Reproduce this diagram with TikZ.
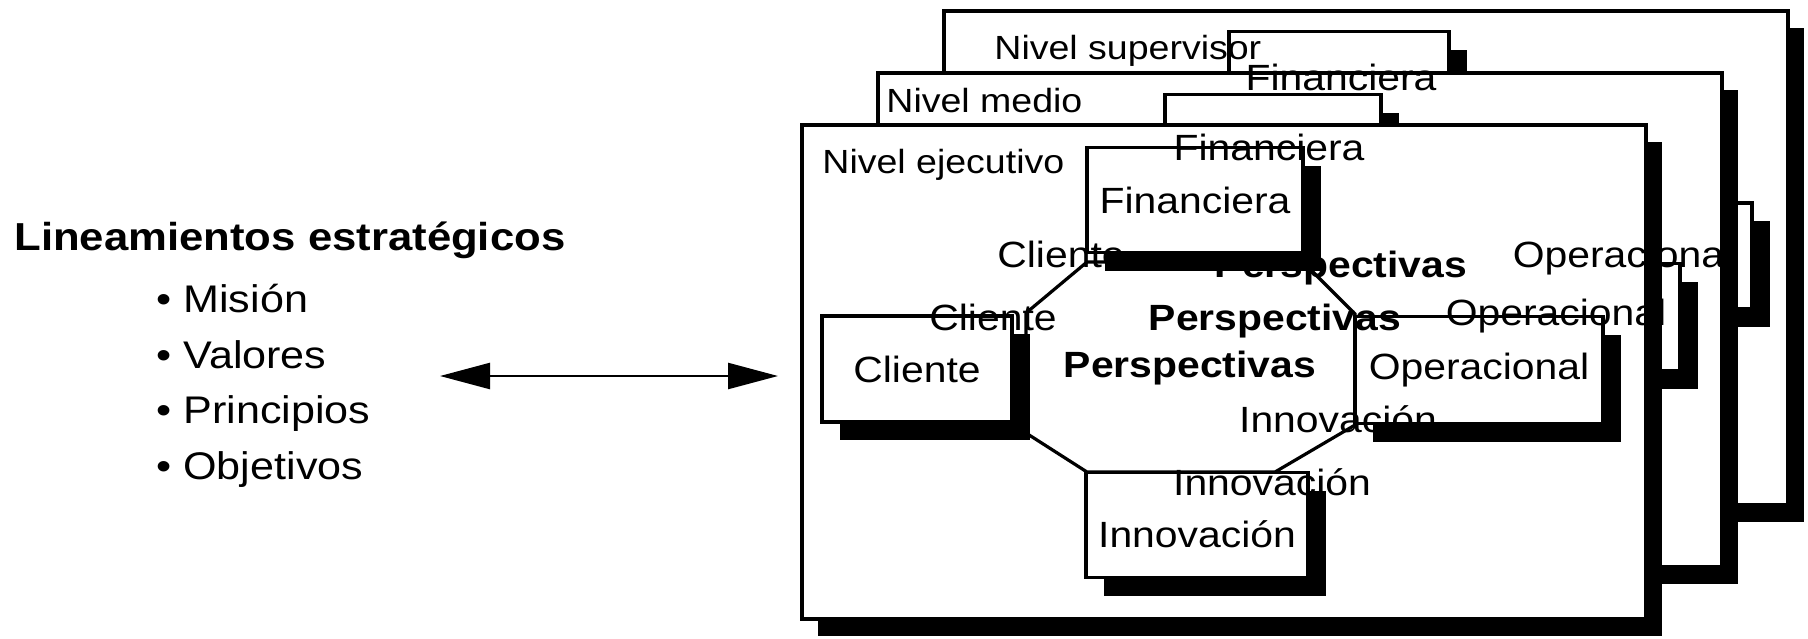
\documentclass[tikz,border=0pt]{standalone}
\usepackage{fontspec}
\setmainfont{Liberation Sans}[FakeStretch=1.12]
\usetikzlibrary{arrows.meta, shadows}

\tikzset{
  levelframe/.style={draw, line width=1.6pt, fill=white, inner sep=0pt,
    minimum width=422pt, minimum height=247pt,
    general shadow={fill=black, shadow xshift=8pt, shadow yshift=-8.5pt}},
  persbox/.style={draw, line width=1.6pt, fill=white, inner sep=0pt,
    font=\fontsize{18.25}{20}\selectfont,
    general shadow={fill=black, shadow xshift=9pt, shadow yshift=-9pt}},
  levellabel/.style={anchor=base west, inner sep=0pt, font=\fontsize{16.75}{19}\selectfont},
  ghost/.style={anchor=base, inner sep=0pt, font=\fontsize{18.25}{20}\selectfont},
  bulletitem/.style={anchor=base west, inner sep=0pt, font=\fontsize{19.25}{22}\selectfont},
}

\begin{document}
\begin{tikzpicture}[x=0.5pt, y=-0.5pt]
  \useasboundingbox (0,0) rectangle (1808,638);

  % Lineamientos
  \node[anchor=base west, inner sep=0pt, font=\bfseries\fontsize{19.5}{22}\selectfont] (lin) at (14,250) {Lineamientos estratégicos};
  \node[bulletitem] (mis) at (156,312) {\textbullet\ Misión};
  \node[bulletitem] (val) at (156,368) {\textbullet\ Valores};
  \node[bulletitem] (pri) at (156,423) {\textbullet\ Principios};
  \node[bulletitem] (obj) at (156,479) {\textbullet\ Objetivos};

  % Arrow
  \coordinate (arrl) at (440,376);
  \coordinate (arrr) at (778,376);
  \draw[{Triangle[length=25pt,width=13pt]}-{Triangle[length=25pt,width=13pt]}, line width=1.2pt] (arrl) -- (arrr);

  % Nivel supervisor
  \node[levelframe] (sup) at (1366,258) {};
  \node[persbox, minimum width=110pt, minimum height=52.5pt] (fin-sup) at (1339,84) {};
  \node[persbox, minimum width=124pt, minimum height=53pt] (op-sup) at (1628,256) {};

  % Nivel medio
  \node[levelframe] (med) at (1300,320) {};
  \node[persbox, minimum width=108pt, minimum height=52.5pt] (fin-med) at (1273,147) {};
  \node[persbox, minimum width=124pt, minimum height=53.5pt] (op-med) at (1556,317) {};

  % Nivel ejecutivo
  \node[levelframe] (eje) at (1224,372) {};
  \draw[line width=1.6pt, fill=white] (1087,262) -- (1303,262) -- (1355,314) -- (1355,425) -- (1275,472) -- (1087,472) -- (1026,433) -- (1026,313) -- cycle;
  \node[anchor=base, inner sep=0pt, font=\bfseries\fontsize{18.25}{20}\selectfont] (persp) at (1190,377) {Perspectivas};
  \node[persbox, minimum width=108pt, minimum height=52.5pt] (fin) at (1195,200) {Financiera};
  \node[persbox, minimum width=95pt, minimum height=53pt] (cli) at (917,369) {Cliente};
  \node[persbox, minimum width=124pt, minimum height=53.5pt] (op) at (1479,370) {Operacional};
  \node[persbox, minimum width=111pt, minimum height=52.5pt, text height=22pt, text depth=0pt] (inn) at (1197,525) {Innovación};

  % Level names
  \node[levellabel] (lab-sup) at (994,59) {Nivel supervisor};
  \node[levellabel] (lab-med) at (886,112) {Nivel medio};
  \node[levellabel] (lab-eje) at (822,173) {Nivel ejecutivo};

  % Texts of the back levels showing through
  \node[ghost] (fin-med-t) at (1269,160) {Financiera};
  \node[ghost] (cli-med-t) at (993,330) {Cliente};
  \node[ghost, font=\bfseries\fontsize{18.25}{20}\selectfont] (persp-med) at (1275,330) {Perspectivas};
  \node[ghost] (op-med-t) at (1556,325) {Operacional};
  \node[ghost] (inn-med-t) at (1272,495) {Innovación};

  \node[ghost] (fin-sup-t) at (1341,90) {Financiera};
  \node[ghost] (cli-sup-t) at (1061,267) {Cliente};
  \node[ghost, font=\bfseries\fontsize{18.25}{20}\selectfont] (persp-sup) at (1341,277) {Perspectivas};
  \node[ghost] (op-sup-t) at (1623,267) {Operacional};
  \node[ghost] (inn-sup-t) at (1338,432) {Innovación};
\end{tikzpicture}
\end{document}
